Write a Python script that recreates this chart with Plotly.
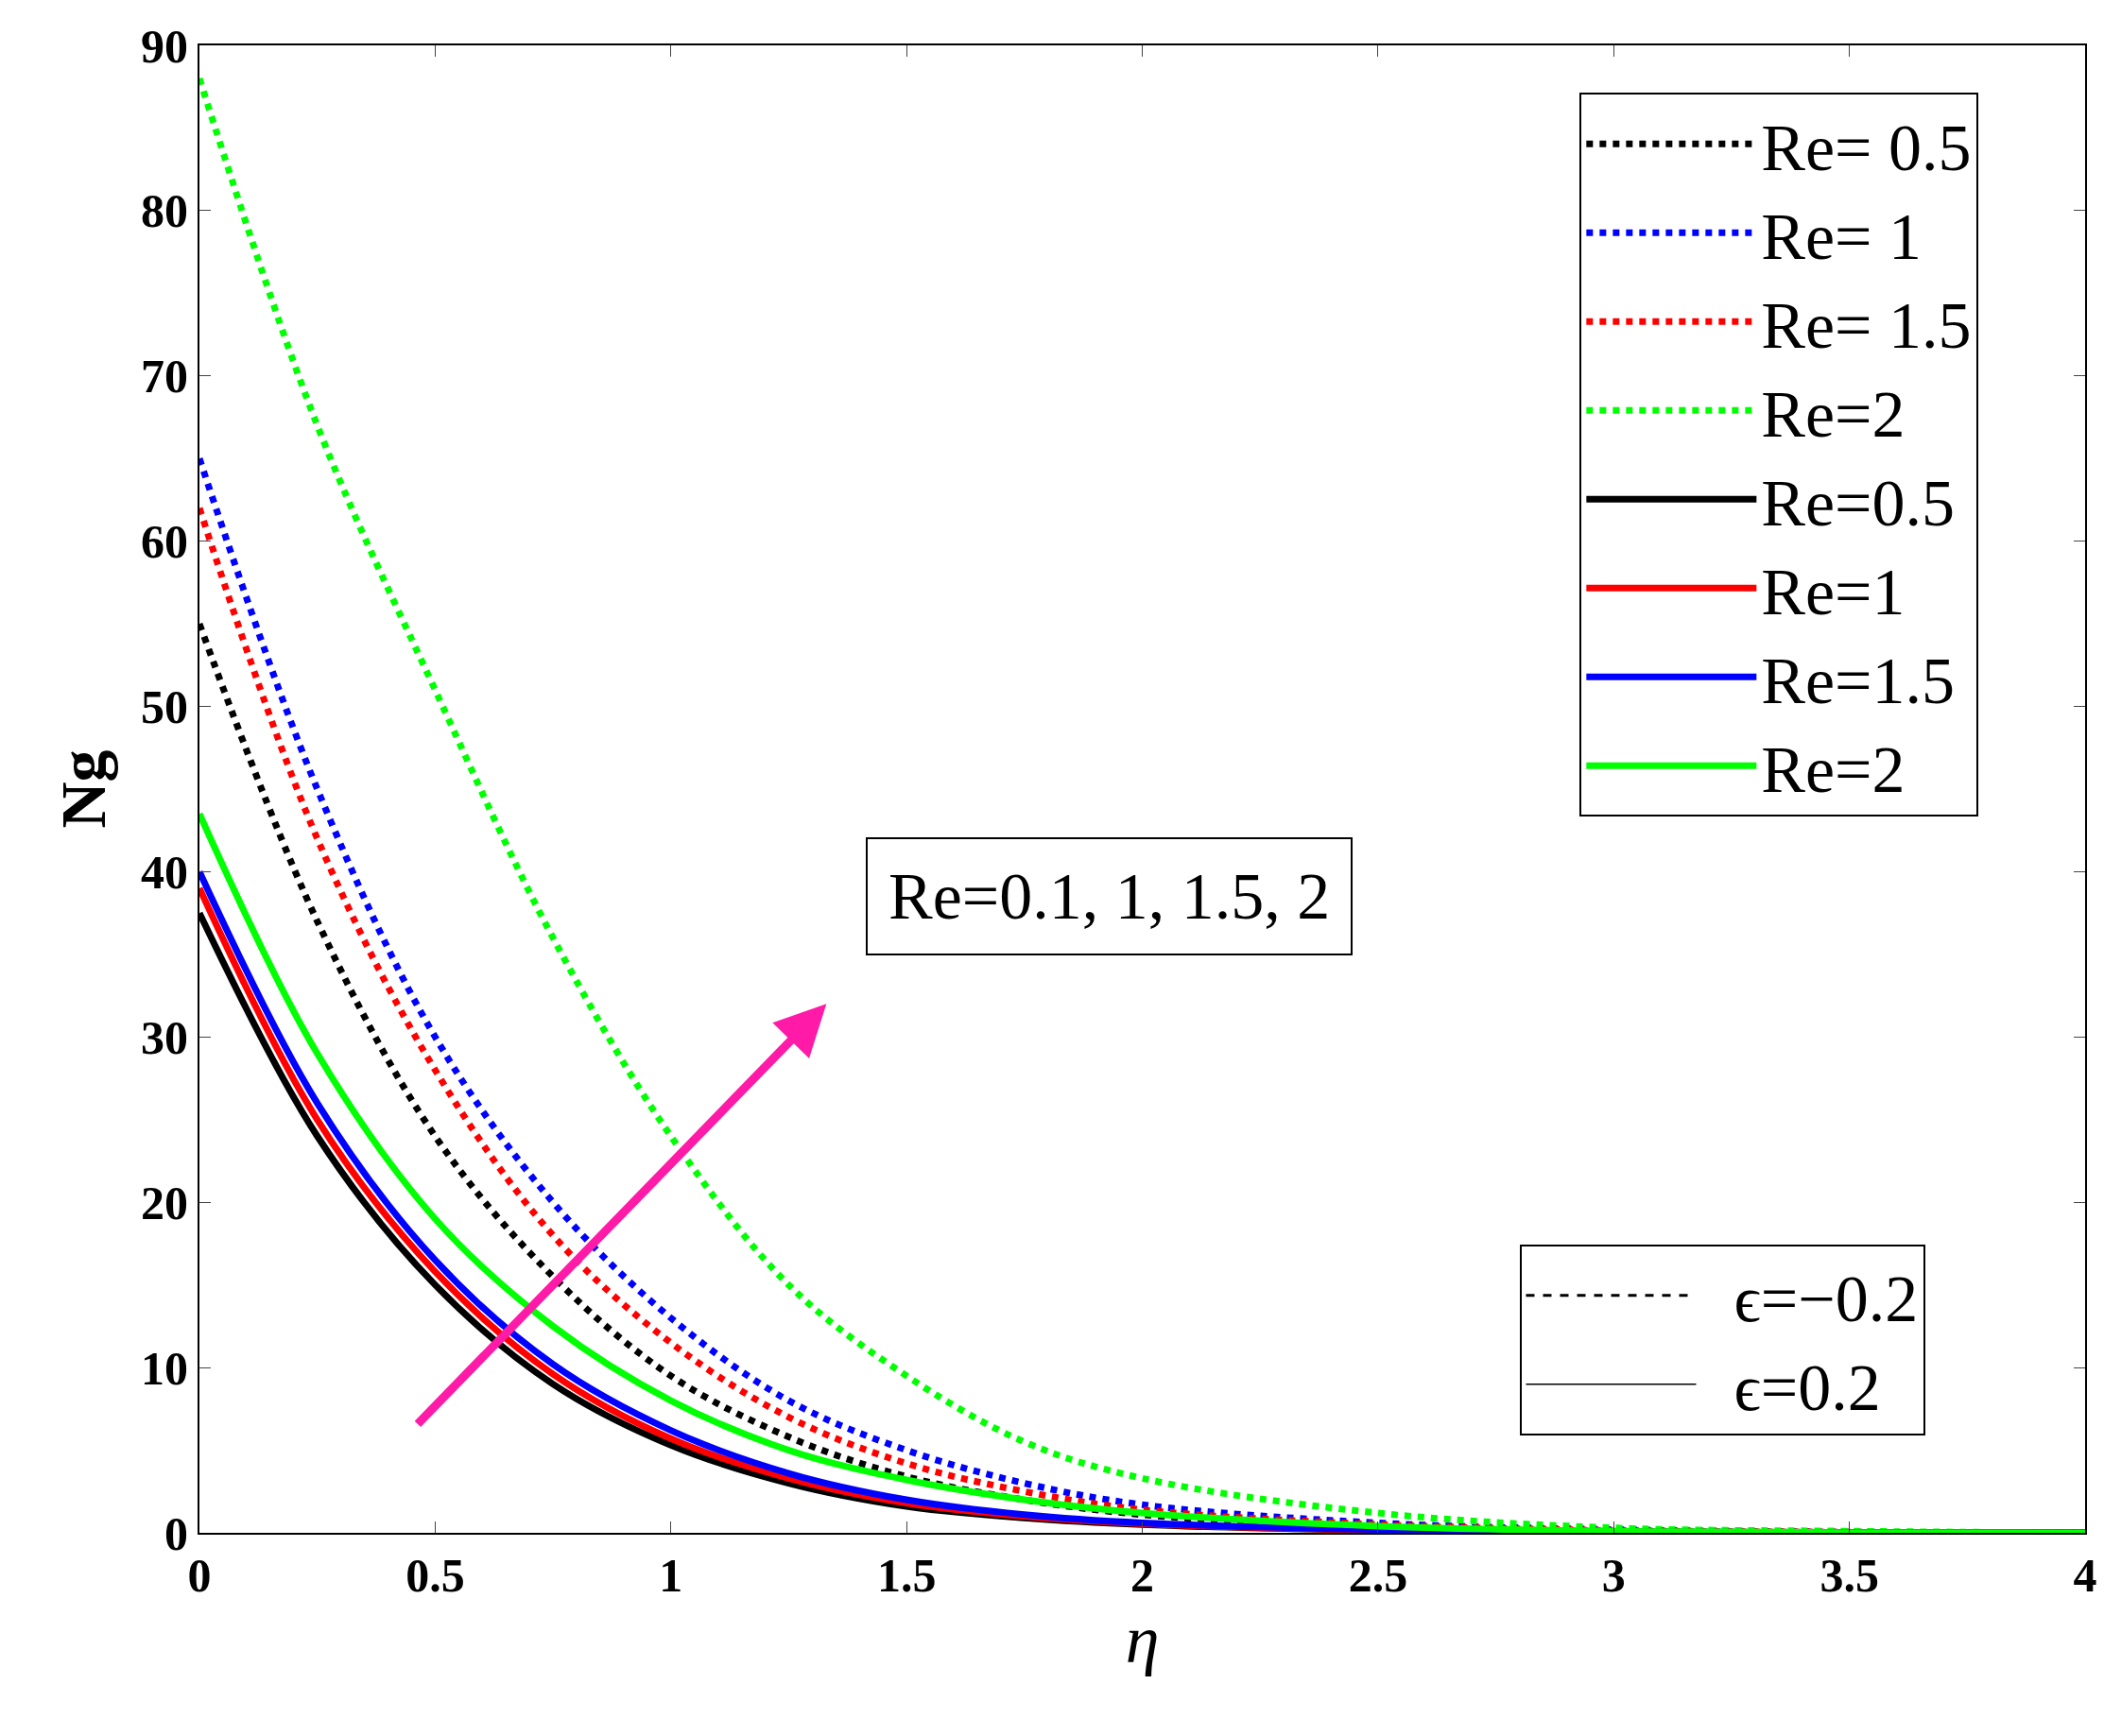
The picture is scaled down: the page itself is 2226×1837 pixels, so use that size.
import plotly.graph_objects as go

eta = [0, 0.25, 0.5, 0.75, 1.0, 1.25, 1.5, 1.75, 2.0, 2.5, 3.0, 3.5, 4.0]
dot_re05 = [55, 37, 24, 15.5, 9.5, 5.8, 3.4, 2.0, 1.1, 0.35, 0.1, 0.03, 0]
dot_re1 = [65, 45, 30, 20, 13, 8, 5, 3, 1.7, 0.6, 0.2, 0.05, 0]
dot_re15 = [62, 42, 28, 18, 11.5, 7, 4.2, 2.5, 1.4, 0.5, 0.15, 0.04, 0]
dot_re2 = [88, 67, 51, 36, 24, 15, 9.5, 5.5, 3.3, 1.2, 0.3, 0.1, 0]
sol_re05 = [37.5, 24, 15, 9, 5.3, 3, 1.6, 0.9, 0.5, 0.15, 0.04, 0.01, 0]
sol_re1 = [39, 25, 15.8, 9.6, 5.7, 3.3, 1.8, 1.0, 0.55, 0.17, 0.05, 0.01, 0]
sol_re15 = [40, 26, 16.5, 10.2, 6.2, 3.6, 2.0, 1.1, 0.6, 0.2, 0.05, 0.01, 0]
sol_re2 = [43.5, 29, 19, 12.5, 8, 5, 3.2, 2.0, 1.2, 0.4, 0.1, 0.02, 0]

series = [
    ("Re= 0.5", dot_re05, "black", "dot"),
    ("Re= 1", dot_re1, "blue", "dot"),
    ("Re= 1.5", dot_re15, "red", "dot"),
    ("Re=2", dot_re2, "#00ff00", "dot"),
    ("Re=0.5", sol_re05, "black", "solid"),
    ("Re=1", sol_re1, "red", "solid"),
    ("Re=1.5", sol_re15, "blue", "solid"),
    ("Re=2", sol_re2, "#00ff00", "solid"),
]

FONT = "Liberation Serif"
fig = go.Figure()
for name, y, c, d in series:
    fig.add_trace(go.Scatter(x=eta, y=y, mode="lines", name=name,
                             line=dict(color=c, dash=d, width=7, shape="spline"),
                             legend="legend"))
fig.add_trace(go.Scatter(x=[None], y=[None], mode="lines", name="  ϵ=−0.2",
                         line=dict(color="black", dash="dash", width=3), legend="legend2"))
fig.add_trace(go.Scatter(x=[None], y=[None], mode="lines", name="  ϵ=0.2",
                         line=dict(color="black", width=1.5), legend="legend2"))

fig.add_annotation(x=1.33, y=32, ax=0.46, ay=6.5, xref="x", yref="y", axref="x", ayref="y",
                   showarrow=True, arrowhead=2, arrowsize=1.2, arrowwidth=9, arrowcolor="#ff1aa8", text="")
fig.add_annotation(x=1.93, y=38.5, xref="x", yref="y", text="Re=0.1, 1, 1.5, 2", showarrow=False,
                   font=dict(family=FONT, size=70, color="black"), bordercolor="black",
                   borderwidth=2, borderpad=22, bgcolor="white")

fig.update_layout(
    width=2226, height=1837, plot_bgcolor="white", paper_bgcolor="white",
    margin=dict(l=203, r=28, t=40, b=223),
    font=dict(family=FONT, color="black"),
    legend=dict(x=0.732, y=0.968, xanchor="left", yanchor="top", bordercolor="black", borderwidth=2,
                font=dict(family=FONT, size=70), bgcolor="white", tracegroupgap=0, itemwidth=180),
    legend2=dict(x=0.70, y=0.194, xanchor="left", yanchor="top", bordercolor="black", borderwidth=2,
                 font=dict(family=FONT, size=70), bgcolor="white", itemwidth=180),
)
fig.update_xaxes(range=[0, 4], dtick=0.5, showline=True, linecolor="black", linewidth=2, mirror="ticks",
                 ticks="inside", ticklen=12, showgrid=False, zeroline=False,
                 tickfont=dict(family=FONT, size=50, color="black", weight="bold"),
                 title=dict(text="<i>η</i>", font=dict(family=FONT, size=72)))
fig.update_yaxes(range=[0, 90], dtick=10, showline=True, linecolor="black", linewidth=2, mirror="ticks",
                 ticks="inside", ticklen=12, showgrid=False, zeroline=False,
                 tickfont=dict(family=FONT, size=50, color="black", weight="bold"),
                 title=dict(text="<b>Ng</b>", font=dict(family=FONT, size=68)))
fig.write_html("out.html")
